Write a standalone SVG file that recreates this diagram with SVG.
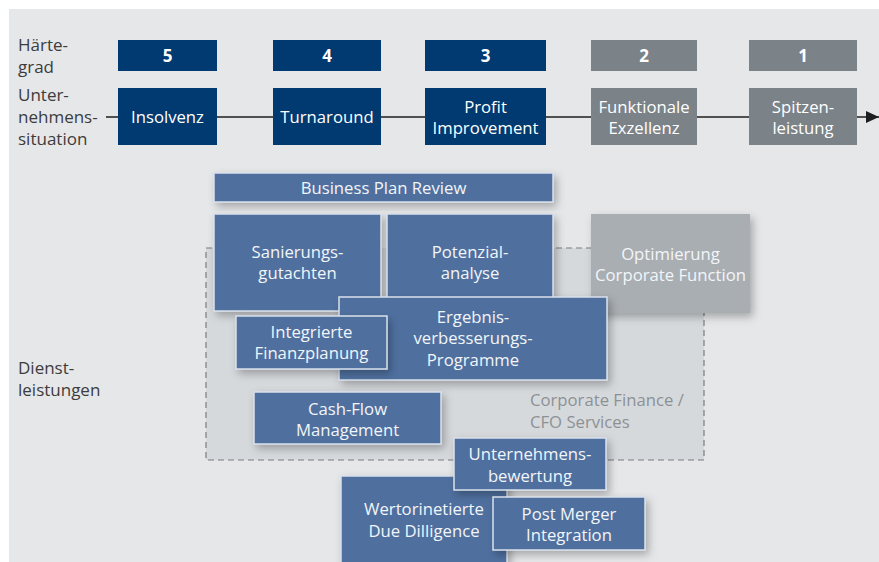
<svg xmlns="http://www.w3.org/2000/svg" width="879" height="562" viewBox="0 0 879 562">
<defs>
<filter id="sh" x="-20%" y="-20%" width="140%" height="150%">
<feDropShadow dx="3" dy="4" stdDeviation="4" flood-color="#000" flood-opacity="0.28"/>
</filter>
<marker id="arr" markerWidth="13" markerHeight="12" refX="13" refY="6" orient="auto" markerUnits="userSpaceOnUse">
<path d="M0,0 L13,6 L0,12 Z" fill="#1e1e1e"/>
</marker>
</defs>
<style>
text{font-family:"Open Sans","Noto Sans","Liberation Sans",sans-serif;font-size:16.7px}
.lbl{fill:#3c3c3c;font-size:17px}
.dk{fill:#003a70}
.gr{fill:#7b8389}
.wt{fill:#ffffff;text-anchor:middle}
.num{font-weight:bold;font-size:17px}
.sv{fill:#50709f;stroke:#d9e0ea;stroke-width:1.5;filter:url(#sh)}
.svt{fill:#f2f5f9;text-anchor:middle}
.cf{fill:#8c9195}
</style>
<rect x="0" y="0" width="879" height="562" fill="#ffffff"/>
<rect x="9" y="9" width="870" height="553" fill="#e6e7e9"/>

<g id="labels">
<text class="lbl" x="18" y="51">Härte-</text>
<text class="lbl" x="18" y="73">grad</text>
<text class="lbl" x="18" y="101">Unter-</text>
<text class="lbl" x="18" y="123">nehmens-</text>
<text class="lbl" x="18" y="145">situation</text>
<text class="lbl" x="18" y="374">Dienst-</text>
<text class="lbl" x="18" y="396">leistungen</text>
</g>

<g id="connectors">
<line x1="106" y1="117" x2="879" y2="117" stroke="#1e1e1e" stroke-width="1.6" marker-end="url(#arr)"/>
</g>

<g id="grade5"><rect class="dk" x="118" y="40" width="99" height="31"/><text class="wt num" x="167.5" y="62">5</text></g>
<g id="grade4"><rect class="dk" x="273" y="40" width="108" height="31"/><text class="wt num" x="327" y="62">4</text></g>
<g id="grade3"><rect class="dk" x="425" y="40" width="121" height="31"/><text class="wt num" x="485.5" y="62">3</text></g>
<g id="grade2"><rect class="gr" x="591" y="40" width="106" height="31"/><text class="wt num" x="644" y="62">2</text></g>
<g id="grade1"><rect class="gr" x="749" y="40" width="108" height="31"/><text class="wt num" x="803" y="62">1</text></g>

<g id="insolvenz"><rect class="dk" x="118" y="88" width="99" height="57"/><text class="wt" x="167.5" y="123">Insolvenz</text></g>
<g id="turnaround"><rect class="dk" x="273" y="88" width="108" height="57"/><text class="wt" x="327" y="123">Turnaround</text></g>
<g id="profit"><rect class="dk" x="425" y="88" width="121" height="57"/><text class="wt" x="485.5" y="113">Profit</text><text class="wt" x="485.5" y="134">Improvement</text></g>
<g id="funktionale"><rect class="gr" x="591" y="88" width="106" height="57"/><text class="wt" x="644" y="113">Funktionale</text><text class="wt" x="644" y="134">Exzellenz</text></g>
<g id="spitzen"><rect class="gr" x="749" y="88" width="108" height="57"/><text class="wt" x="803" y="113">Spitzen-</text><text class="wt" x="803" y="134">leistung</text></g>

<g id="cfo-region">
<rect x="206" y="248" width="498" height="212" fill="#d6d9dc" stroke="#7a7d80" stroke-width="1.2" stroke-dasharray="6 4"/>
<text class="cf" x="530" y="406">Corporate Finance /</text>
<text class="cf" x="530" y="428">CFO Services</text>
</g>

<g id="bpr"><rect class="sv" x="214" y="173" width="339" height="29"/><text class="svt" x="383.5" y="194">Business Plan Review</text></g>
<g id="optimierung"><rect x="591" y="214" width="159" height="99" fill="#a9aeb2" filter="url(#sh)"/><text class="svt" x="670.5" y="260">Optimierung</text><text class="svt" x="670.5" y="281">Corporate Function</text></g>
<g id="sanierung"><rect class="sv" x="214" y="214" width="167" height="97"/><text class="svt" x="297.5" y="258">Sanierungs-</text><text class="svt" x="297.5" y="279">gutachten</text></g>
<g id="potenzial"><rect class="sv" x="387" y="214" width="166" height="97"/><text class="svt" x="470" y="258">Potenzial-</text><text class="svt" x="470" y="279">analyse</text></g>
<g id="ergebnis"><rect class="sv" x="339" y="297" width="268" height="83"/><text class="svt" x="473" y="323">Ergebnis-</text><text class="svt" x="473" y="344">verbesserungs-</text><text class="svt" x="473" y="366">Programme</text></g>
<g id="finanzplanung"><rect class="sv" x="236" y="316" width="151" height="53"/><text class="svt" x="311.5" y="338">Integrierte</text><text class="svt" x="311.5" y="359">Finanzplanung</text></g>
<g id="cashflow"><rect class="sv" x="254" y="392" width="187" height="52"/><text class="svt" x="347.5" y="415">Cash-Flow</text><text class="svt" x="347.5" y="436">Management</text></g>
<g id="duediligence"><rect class="sv" x="341" y="476" width="166" height="90"/><text class="svt" x="424" y="515">Wertorinetierte</text><text class="svt" x="424" y="537">Due Dilligence</text></g>
<g id="bewertung"><rect class="sv" x="454" y="438" width="152" height="52"/><text class="svt" x="530" y="460">Unternehmens-</text><text class="svt" x="530" y="482">bewertung</text></g>
<g id="pmi"><rect class="sv" x="493" y="497" width="152" height="53"/><text class="svt" x="569" y="520">Post Merger</text><text class="svt" x="569" y="541">Integration</text></g>
</svg>
